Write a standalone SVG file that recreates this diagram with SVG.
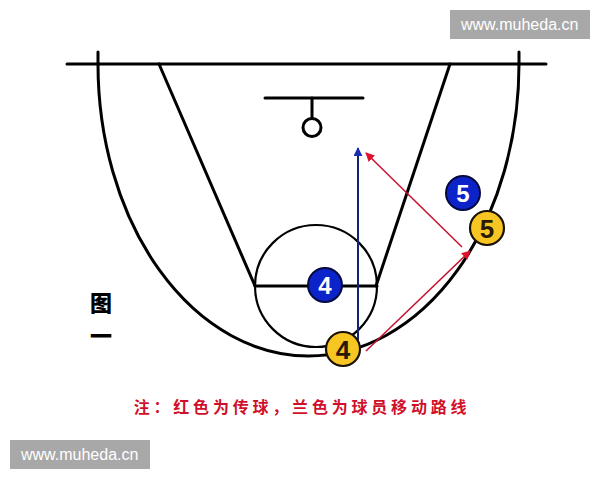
<svg xmlns="http://www.w3.org/2000/svg" width="600" height="480" viewBox="0 0 600 480">
<style>
.court{fill:none;stroke:#000;stroke-width:3;stroke-linecap:round}
.thin{fill:none;stroke:#000;stroke-width:2.2}
.blue circle{fill:#0b23c8;stroke:#050a40;stroke-width:2}
.yellow circle{fill:#f7c623;stroke:#1a1206;stroke-width:2.2}
.blue text{fill:#fff;font-family:"Liberation Sans",Arial,sans-serif;font-weight:bold;font-size:24px;text-anchor:middle}
.yellow text{fill:#2a1a05;font-family:"Liberation Sans",Arial,sans-serif;font-weight:bold;font-size:26px;text-anchor:middle}
.pass{stroke:#c8102e;stroke-width:1.5;fill:none;marker-end:url(#ar)}
.move{stroke:#14237a;stroke-width:2;fill:none;marker-end:url(#ab)}
.wm rect{fill:#a8a8a8}
.wm text{fill:#fff;font-family:"Liberation Sans",Arial,sans-serif;font-size:16px}
</style>
<defs>
<marker id="ar" viewBox="0 0 10 10" refX="9" refY="5" markerWidth="9" markerHeight="9" markerUnits="userSpaceOnUse" orient="auto"><path d="M0,0 L10,5 L0,10 z" fill="#e0102a"/></marker>
<marker id="ab" viewBox="0 0 10 10" refX="9" refY="5" markerWidth="9" markerHeight="9" markerUnits="userSpaceOnUse" orient="auto"><path d="M0,0 L10,5 L0,10 z" fill="#1a2fb0"/></marker>
</defs>
<rect width="600" height="480" fill="#fff"/>
<g id="court">
<line class="court" x1="67" y1="64" x2="546" y2="64"/>
<path class="court" d="M98,52 L98,64 A210.5,292 0 0 0 519,64 L519,52"/>
<line class="court" x1="159" y1="64" x2="255" y2="286"/>
<line class="court" x1="450" y1="64" x2="376" y2="286"/>
<line class="court" x1="255" y1="286" x2="377" y2="286"/>
<circle class="thin" cx="316" cy="286" r="61"/>
<line class="court" x1="265" y1="98" x2="363" y2="98"/>
<line class="court" x1="312" y1="98" x2="312" y2="118"/>
<circle class="court" cx="312" cy="127.5" r="9"/>
</g>
<g id="connectors">
<line class="move" x1="358" y1="340" x2="358" y2="148"/>
<line class="pass" x1="366" y1="351" x2="470" y2="251"/>
<line class="pass" x1="462" y1="247" x2="366" y2="153"/>
</g>
<g id="blue4" class="blue"><circle cx="325" cy="285" r="17"/><text x="325" y="294">4</text></g>
<g id="yellow4" class="yellow"><circle cx="343" cy="349" r="17"/><text x="343" y="358.5">4</text></g>
<g id="blue5" class="blue"><circle cx="463" cy="193" r="17"/><text x="463" y="202">5</text></g>
<g id="yellow5" class="yellow"><circle cx="487" cy="228" r="17"/><text x="487" y="237.5">5</text></g>
<g id="label">
<text x="101" y="311" font-family="'Noto Sans CJK SC',sans-serif" font-weight="900" font-size="22" text-anchor="middle">图</text>
<text x="101" y="344" font-family="'Noto Sans CJK SC',sans-serif" font-weight="900" font-size="22" text-anchor="middle">一</text>
</g>
<g id="caption">
<text x="302" y="413" fill="#d0102a" font-family="'Noto Sans CJK SC',sans-serif" font-weight="bold" font-size="16" letter-spacing="3.8" text-anchor="middle">注：红色为传球，兰色为球员移动路线</text>
</g>
<g id="wm1" class="wm"><rect x="450" y="10" width="140" height="29"/><text x="461" y="30">www.muheda.cn</text></g>
<g id="wm2" class="wm"><rect x="10" y="440" width="140" height="29"/><text x="21" y="460">www.muheda.cn</text></g>
</svg>
